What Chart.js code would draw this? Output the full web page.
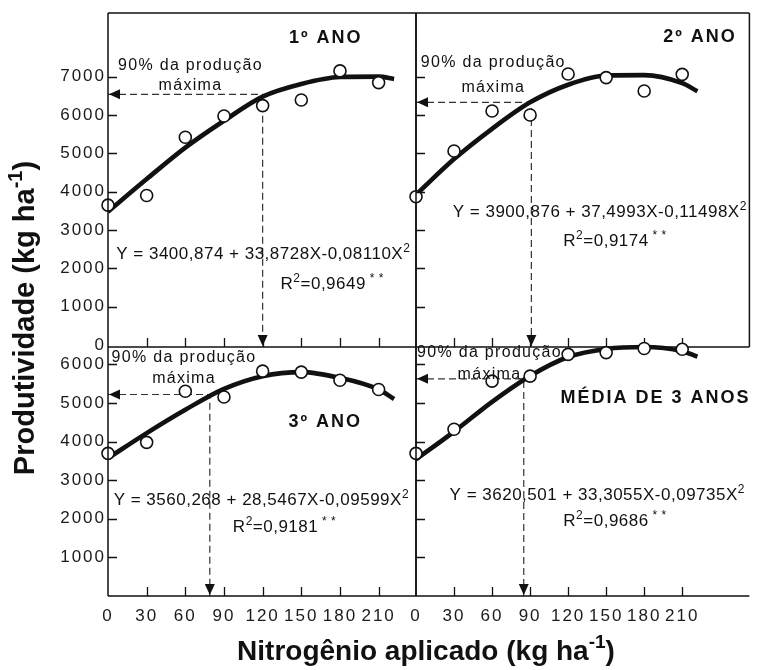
<!DOCTYPE html>
<html>
<head>
<meta charset="utf-8">
<script src="https://cdn.jsdelivr.net/npm/chart.js@4.4.1/dist/chart.umd.min.js"></script>
<style>
  html, body { margin: 0; padding: 0; background: #fff; }
  #wrap { position: relative; width: 757px; height: 670px; }
  #wrap canvas { position: absolute; left: 0; top: 0; }
</style>
</head>
<body>
<div id="wrap">
  <canvas id="c1" width="757" height="670"></canvas>
  <canvas id="c2" width="757" height="670"></canvas>
  <canvas id="c3" width="757" height="670"></canvas>
  <canvas id="c4" width="757" height="670"></canvas>
</div>
<script>
// Produtividade x doses de N — 4 painéis (1º, 2º, 3º ano e média)

const doses = [0, 30, 60, 90, 120, 150, 180, 210];
const obsAno1  = [3650, 3900, 5420, 5975, 6245, 6390, 7150, 6845];
const obsAno2  = [3870, 5060, 6105, 6000, 7070, 6975, 6625, 7060];
const obsAno3  = [3695, 3980, 5305, 5155, 5825, 5800, 5590, 5350];
const obsMedia = [3695, 4320, 5565, 5695, 6260, 6305, 6410, 6390];

// fitted curve
const fitDoses = [0, 30, 60, 90, 120, 150, 180, 210, 222];
const fitAno1  = [3480, 4330, 5150, 5850, 6480, 6810, 6990, 7000, 6940];
const fitAno2  = [3920, 4850, 5640, 6330, 6790, 7030, 7040, 6830, 6620];
const fitAno3  = [3570, 4220, 4825, 5365, 5695, 5800, 5650, 5350, 5105];
const fitMedia = [3540, 4260, 5030, 5700, 6190, 6400, 6450, 6340, 6200];

// 90% of max production: [dose, yield]
const guideAno1  = [120, 6540];
const guideAno2  = [91, 6330];
const guideAno3  = [79, 5220];
const guideMedia = [85, 5625];

const xTicks = [0, 30, 60, 90, 120, 150, 180, 210];
const yTicksTop = [0, 1000, 2000, 3000, 4000, 5000, 6000, 7000];
const yTicksBottom = [1000, 2000, 3000, 4000, 5000, 6000];

const eqText = [
  'Y = 3400,874 + 33,8728X-0,08110X^{2}',
  'Y = 3900,876 + 37,4993X-0,11498X^{2}',
  'Y = 3560,268 + 28,5467X-0,09599X^{2}',
  'Y = 3620,501 + 33,3055X-0,09735X^{2}'
];
const r2Text = ['R^{2}=0,9649^{ * *}', 'R^{2}=0,9174^{ * *}', 'R^{2}=0,9181^{ * *}', 'R^{2}=0,9686^{ * *}'];
const panelTitles = ['1º ANO', '2º ANO', '3º ANO', 'MÉDIA DE 3 ANOS'];

const FONT = '"Liberation Sans", Arial, Helvetica, sans-serif';
const INK = '#111';

function drawRich(ctx, str, cx, cy, size, weight, spacing) {
  const parts = [];
  const re = /\^\{([^}]*)\}/g;
  let last = 0, m;
  while ((m = re.exec(str))) {
    if (m.index > last) parts.push({ t: str.slice(last, m.index), sup: false });
    parts.push({ t: m[1], sup: true });
    last = re.lastIndex;
  }
  if (last < str.length) parts.push({ t: str.slice(last), sup: false });

  ctx.save();
  ctx.letterSpacing = spacing + 'px';
  ctx.textAlign = 'left';
  ctx.textBaseline = 'alphabetic';
  ctx.fillStyle = INK;
  const fontFor = p => `${weight} ${p.sup ? Math.round(size * 0.68) : size}px ${FONT}`;
  let w = 0;
  parts.forEach(p => { ctx.font = fontFor(p); p.w = ctx.measureText(p.t).width; w += p.w; });
  let x = cx - w / 2;
  const base = cy + size * 0.36;
  parts.forEach(p => {
    ctx.font = fontFor(p);
    ctx.fillText(p.t, x, base - (p.sup ? size * 0.42 : 0));
    x += p.w;
  });
  ctx.restore();
}

const panels = [
  { id: 'c1', obs: obsAno1, fit: fitAno1, guide: guideAno1, xr: [0, 239], yr: [-50, 8660],
    area: { l: 108, t: 13, r: 416, b: 347 }, yLabels: yTicksTop, showY: true, showX: false, sides: 'tlbr',
    title: [169, 8050], note: [64, 7330, 6790], eq: [120.5, 2400], r2: [174, 1620] },
  { id: 'c2', obs: obsAno2, fit: fitAno2, guide: guideAno2, xr: [0, 263], yr: [-50, 8660],
    area: { l: 416, t: 13, r: 755, b: 347 }, yLabels: yTicksTop, showY: false, showX: false, sides: 'tlbr',
    title: [224, 8060], note: [61, 7390, 6760], eq: [145, 3500], r2: [157, 2740] },
  { id: 'c3', obs: obsAno3, fit: fitAno3, guide: guideAno3, xr: [0, 239], yr: [0, 6450],
    area: { l: 108, t: 347, r: 416, b: 596 }, yLabels: yTicksBottom, showY: true, showX: true, sides: 'lbr',
    title: [168.6, 4545], note: [59, 6210, 5660], eq: [119, 2512], r2: [137, 1813] },
  { id: 'c4', obs: obsMedia, fit: fitMedia, guide: guideMedia, xr: [0, 263], yr: [0, 6450],
    area: { l: 416, t: 347, r: 757, b: 596 }, yLabels: yTicksBottom, showY: false, showX: true, sides: 'lb',
    title: [189, 5180], note: [58, 6346, 5760], eq: [143, 2642], r2: [157, 1968] }
];

function panelPlugin(p, idx) {
  return {
    id: 'panel' + idx,
    beforeLayout(chart) { chart.ctx.letterSpacing = '2px'; },
    beforeDraw(chart) { chart.ctx.letterSpacing = '2px'; },
    afterDatasetsDraw(chart) {
      const { ctx, chartArea: a, scales: { x, y } } = chart;
      const gx = x.getPixelForValue(p.guide[0]);
      const gy = y.getPixelForValue(p.guide[1]);
      ctx.save();
      ctx.fillStyle = INK;
      ctx.beginPath();
      ctx.moveTo(a.left + 1, gy);
      ctx.lineTo(a.left + 12, gy - 5);
      ctx.lineTo(a.left + 12, gy + 5);
      ctx.closePath();
      ctx.fill();
      ctx.beginPath();
      ctx.moveTo(gx, a.bottom - 1);
      ctx.lineTo(gx - 5, a.bottom - 12);
      ctx.lineTo(gx + 5, a.bottom - 12);
      ctx.closePath();
      ctx.fill();
      ctx.restore();
    },
    afterDraw(chart) {
      const { ctx, chartArea: a, scales: { x, y } } = chart;
      ctx.save();
      ctx.strokeStyle = INK;
      ctx.lineWidth = 1.5;
      ctx.beginPath();
      if (p.sides.includes('t')) { ctx.moveTo(a.left, a.top); ctx.lineTo(a.right, a.top); }
      if (p.sides.includes('b')) { ctx.moveTo(a.left, a.bottom); ctx.lineTo(a.right, a.bottom); }
      if (p.sides.includes('l')) { ctx.moveTo(a.left, a.top); ctx.lineTo(a.left, a.bottom); }
      if (p.sides.includes('r')) { ctx.moveTo(a.right, a.top); ctx.lineTo(a.right, a.bottom); }
      ctx.stroke();
      // inward tick marks
      ctx.lineWidth = 1.3;
      ctx.beginPath();
      p.yLabels.filter(v => v > 0).forEach(v => {
        const py = Math.round(y.getPixelForValue(v)) + 0.5;
        ctx.moveTo(a.left, py); ctx.lineTo(a.left + 9, py);
      });
      xTicks.filter(v => v > 0).forEach(v => {
        const px = Math.round(x.getPixelForValue(v)) + 0.5;
        ctx.moveTo(px, a.bottom); ctx.lineTo(px, a.bottom - 9);
      });
      ctx.stroke();
      ctx.restore();

      const X = v => x.getPixelForValue(v), Y = v => y.getPixelForValue(v);
      drawRich(ctx, panelTitles[idx], X(p.title[0]), Y(p.title[1]), 18, 'bold', 2);
      drawRich(ctx, '90% da produção', X(p.note[0]), Y(p.note[1]), 16, 'normal', 1.3);
      drawRich(ctx, 'máxima', X(p.note[0]), Y(p.note[2]), 16, 'normal', 1.3);
      drawRich(ctx, eqText[idx], X(p.eq[0]), Y(p.eq[1]), 17, 'normal', 0.5);
      drawRich(ctx, r2Text[idx], X(p.r2[0]), Y(p.r2[1]), 17, 'normal', 0.5);

      if (idx === 2) {
        drawRich(ctx, 'Nitrogênio aplicado (kg ha^{-1})', 426, 650, 28, 'bold', 0);
        ctx.save();
        ctx.translate(24, 318);
        ctx.rotate(-Math.PI / 2);
        drawRich(ctx, 'Produtividade (kg ha^{-1})', 0, 0, 29, 'bold', 0);
        ctx.restore();
      }
    }
  };
}

panels.forEach((p, idx) => {
  new Chart(document.getElementById(p.id), {
    type: 'line',
    data: {
      datasets: [
        {
          label: 'observado',
          data: doses.map((d, i) => ({ x: d, y: p.obs[i] })),
          showLine: false,
          pointRadius: 6,
          pointBackgroundColor: '#fff',
          pointBorderColor: INK,
          pointBorderWidth: 1.6,
          order: 0,
          clip: false,
        },
        {
          label: 'ajuste',
          data: fitDoses.map((d, i) => ({ x: d, y: p.fit[i] })),
          borderColor: INK,
          borderWidth: 4.6,
          pointRadius: 0,
          cubicInterpolationMode: 'monotone',
          order: 1,
          clip: false,
        },
        {
          label: '90% da produção máxima',
          data: [
            { x: p.xr[0], y: p.guide[1] },
            { x: p.guide[0], y: p.guide[1] },
            { x: p.guide[0], y: p.yr[0] },
          ],
          borderColor: '#333',
          borderWidth: 1.2,
          borderDash: [7, 4],
          pointRadius: 0,
          tension: 0,
          order: 2,
        },
      ],
    },
    options: {
      responsive: false,
      animation: false,
      devicePixelRatio: 1,
      layout: { padding: { left: 0, top: p.area.t, right: 757 - p.area.r, bottom: 0 } },
      plugins: { legend: { display: false }, tooltip: { enabled: false } },
      scales: {
        x: {
          type: 'linear',
          min: p.xr[0],
          max: p.xr[1],
          grid: { display: false, drawTicks: false, tickLength: 0 },
          border: { display: false },
          afterBuildTicks: s => { s.ticks = xTicks.map(v => ({ value: v })); },
          afterFit: s => { s.height = 670 - p.area.b; },
          ticks: {
            display: p.showX, padding: 10, color: '#1a1a1a', maxRotation: 0, autoSkip: false,
            font: { family: FONT, size: 17 },
            callback: v => String(v),
          },
        },
        y: {
          type: 'linear',
          min: p.yr[0],
          max: p.yr[1],
          grid: { display: false, drawTicks: false, tickLength: 0 },
          border: { display: false },
          afterBuildTicks: s => { s.ticks = p.yLabels.map(v => ({ value: v })); },
          afterFit: s => { s.width = p.area.l; },
          ticks: {
            display: p.showY, padding: 2, color: '#1a1a1a', autoSkip: false,
            font: { family: FONT, size: 17 },
            callback: v => String(v),
          },
        },
      },
    },
    plugins: [panelPlugin(p, idx)],
  });
});
</script>
</body>
</html>
